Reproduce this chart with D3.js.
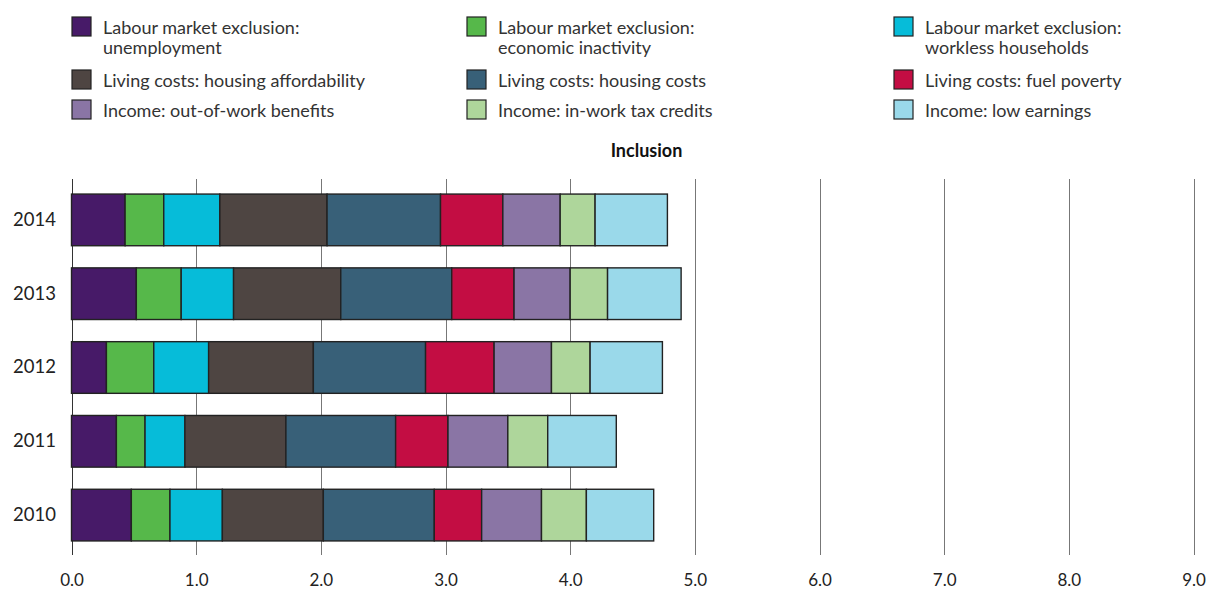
<!DOCTYPE html>
<html>
<head>
<meta charset="utf-8">
<script src="https://cdn.jsdelivr.net/npm/d3@7"></script>
<style>
  html, body { margin: 0; padding: 0; background: #fff; }
  svg { display: block; }
  text { font-family: Lato, "Open Sans", sans-serif; }
</style>
</head>
<body>
<svg id="chart" width="1209" height="592"></svg>
<script>
// ---- data ----
const years = ["2014", "2013", "2012", "2011", "2010"];
const seriesNames = [
  "Labour market exclusion: unemployment",
  "Labour market exclusion: economic inactivity",
  "Labour market exclusion: workless households",
  "Living costs: housing affordability",
  "Living costs: housing costs",
  "Living costs: fuel poverty",
  "Income: out-of-work benefits",
  "Income: in-work tax credits",
  "Income: low earnings"
];
const legendLines = [
  ["Labour market exclusion:", "unemployment"],
  ["Labour market exclusion:", "economic inactivity"],
  ["Labour market exclusion:", "workless households"],
  ["Living costs: housing affordability"],
  ["Living costs: housing costs"],
  ["Living costs: fuel poverty"],
  ["Income: out-of-work benefits"],
  ["Income: in-work tax credits"],
  ["Income: low earnings"]
];
const colors = ["#471a68", "#56b84a", "#06bcd9", "#4e4542", "#386078", "#c30d43", "#8a75a5", "#aed69b", "#9ad9ea"];
// values per series, in order of years (2014..2010)
const unemployment        = [0.43, 0.52, 0.28, 0.36, 0.48];
const economicInactivity  = [0.31, 0.36, 0.38, 0.23, 0.31];
const worklessHouseholds  = [0.45, 0.42, 0.44, 0.32, 0.42];
const housingAffordability= [0.86, 0.86, 0.84, 0.81, 0.81];
const housingCosts        = [0.91, 0.89, 0.90, 0.88, 0.89];
const fuelPoverty         = [0.50, 0.50, 0.55, 0.42, 0.38];
const outOfWorkBenefits   = [0.46, 0.45, 0.46, 0.48, 0.48];
const inWorkTaxCredits    = [0.28, 0.30, 0.31, 0.32, 0.36];
const lowEarnings         = [0.58, 0.59, 0.58, 0.55, 0.54];
const xTicks = [0, 1, 2, 3, 4, 5, 6, 7, 8, 9];
const title = "Inclusion";

const seriesValues = [unemployment, economicInactivity, worklessHouseholds, housingAffordability,
  housingCosts, fuelPoverty, outOfWorkBenefits, inWorkTaxCredits, lowEarnings];

// table for stack
const table = years.map((y, i) => {
  const row = { year: y };
  seriesNames.forEach((s, k) => { row[s] = seriesValues[k][i]; });
  return row;
});

const svg = d3.select("#chart");

const x = d3.scaleLinear().domain([0, 9]).range([71.5, 1193.5]);
const y = d3.scaleBand().domain(years).range([183, 552]).paddingInner(0.3).paddingOuter(0.15);
const color = d3.scaleOrdinal().domain(seriesNames).range(colors);

const gridTop = 179, gridBottom = 555;

// gridlines
svg.append("g").selectAll("line").data(xTicks).join("line")
  .attr("x1", d => Math.round(x(d)) + 0.5).attr("x2", d => Math.round(x(d)) + 0.5)
  .attr("y1", gridTop).attr("y2", gridBottom)
  .attr("stroke", d => d === 0 ? "#333" : "#777").attr("stroke-width", 1);

// x axis labels
const xAxis = d3.axisBottom(x).tickValues(xTicks).tickFormat(d3.format(".1f")).tickSize(0).tickPadding(0);
const gx = svg.append("g").attr("transform", `translate(0,${574})`).call(xAxis);
gx.select(".domain").remove();
gx.selectAll("text").attr("font-size", 17).attr("fill", "#222").attr("font-family", "Lato, 'Open Sans', sans-serif");

// y axis labels
const yAxis = d3.axisLeft(y).tickSize(0).tickPadding(0);
const gy = svg.append("g").attr("transform", `translate(56,0)`).call(yAxis);
gy.select(".domain").remove();
gy.selectAll("text").attr("font-size", 18.5).attr("fill", "#222").attr("font-family", "Lato, 'Open Sans', sans-serif");

// stacked bars
const stack = d3.stack().keys(seriesNames);
const stacked = stack(table);
svg.append("g").selectAll("g").data(stacked).join("g")
  .attr("fill", d => color(d.key))
  .selectAll("rect").data(d => d).join("rect")
  .attr("x", d => x(d[0]))
  .attr("y", d => y(d.data.year))
  .attr("width", d => x(d[1]) - x(d[0]))
  .attr("height", y.bandwidth())
  .attr("stroke", "#222")
  .attr("stroke-width", 1.4);

// title
svg.append("text").attr("x", 646.5).attr("y", 157).attr("text-anchor", "middle")
  .attr("font-size", 18).attr("font-weight", "bold").attr("fill", "#111").text(title);

// legend
const colX = [72, 467, 894];
const rowY = [17, 70, 100];
const legend = svg.append("g").selectAll("g").data(seriesNames).join("g")
  .attr("transform", (d, i) => `translate(${colX[i % 3]},${rowY[Math.floor(i / 3)]})`);
legend.append("rect").attr("width", 19).attr("height", 19)
  .attr("fill", d => color(d)).attr("stroke", "#222").attr("stroke-width", 1.2);
legend.append("text").attr("x", 31).attr("y", 16.5)
  .attr("font-size", 18).attr("fill", "#333")
  .selectAll("tspan").data((d, i) => legendLines[i]).join("tspan")
  .attr("x", 31).attr("dy", (d, j) => j === 0 ? 0 : 20.5).text(d => d);
</script>
</body>
</html>
